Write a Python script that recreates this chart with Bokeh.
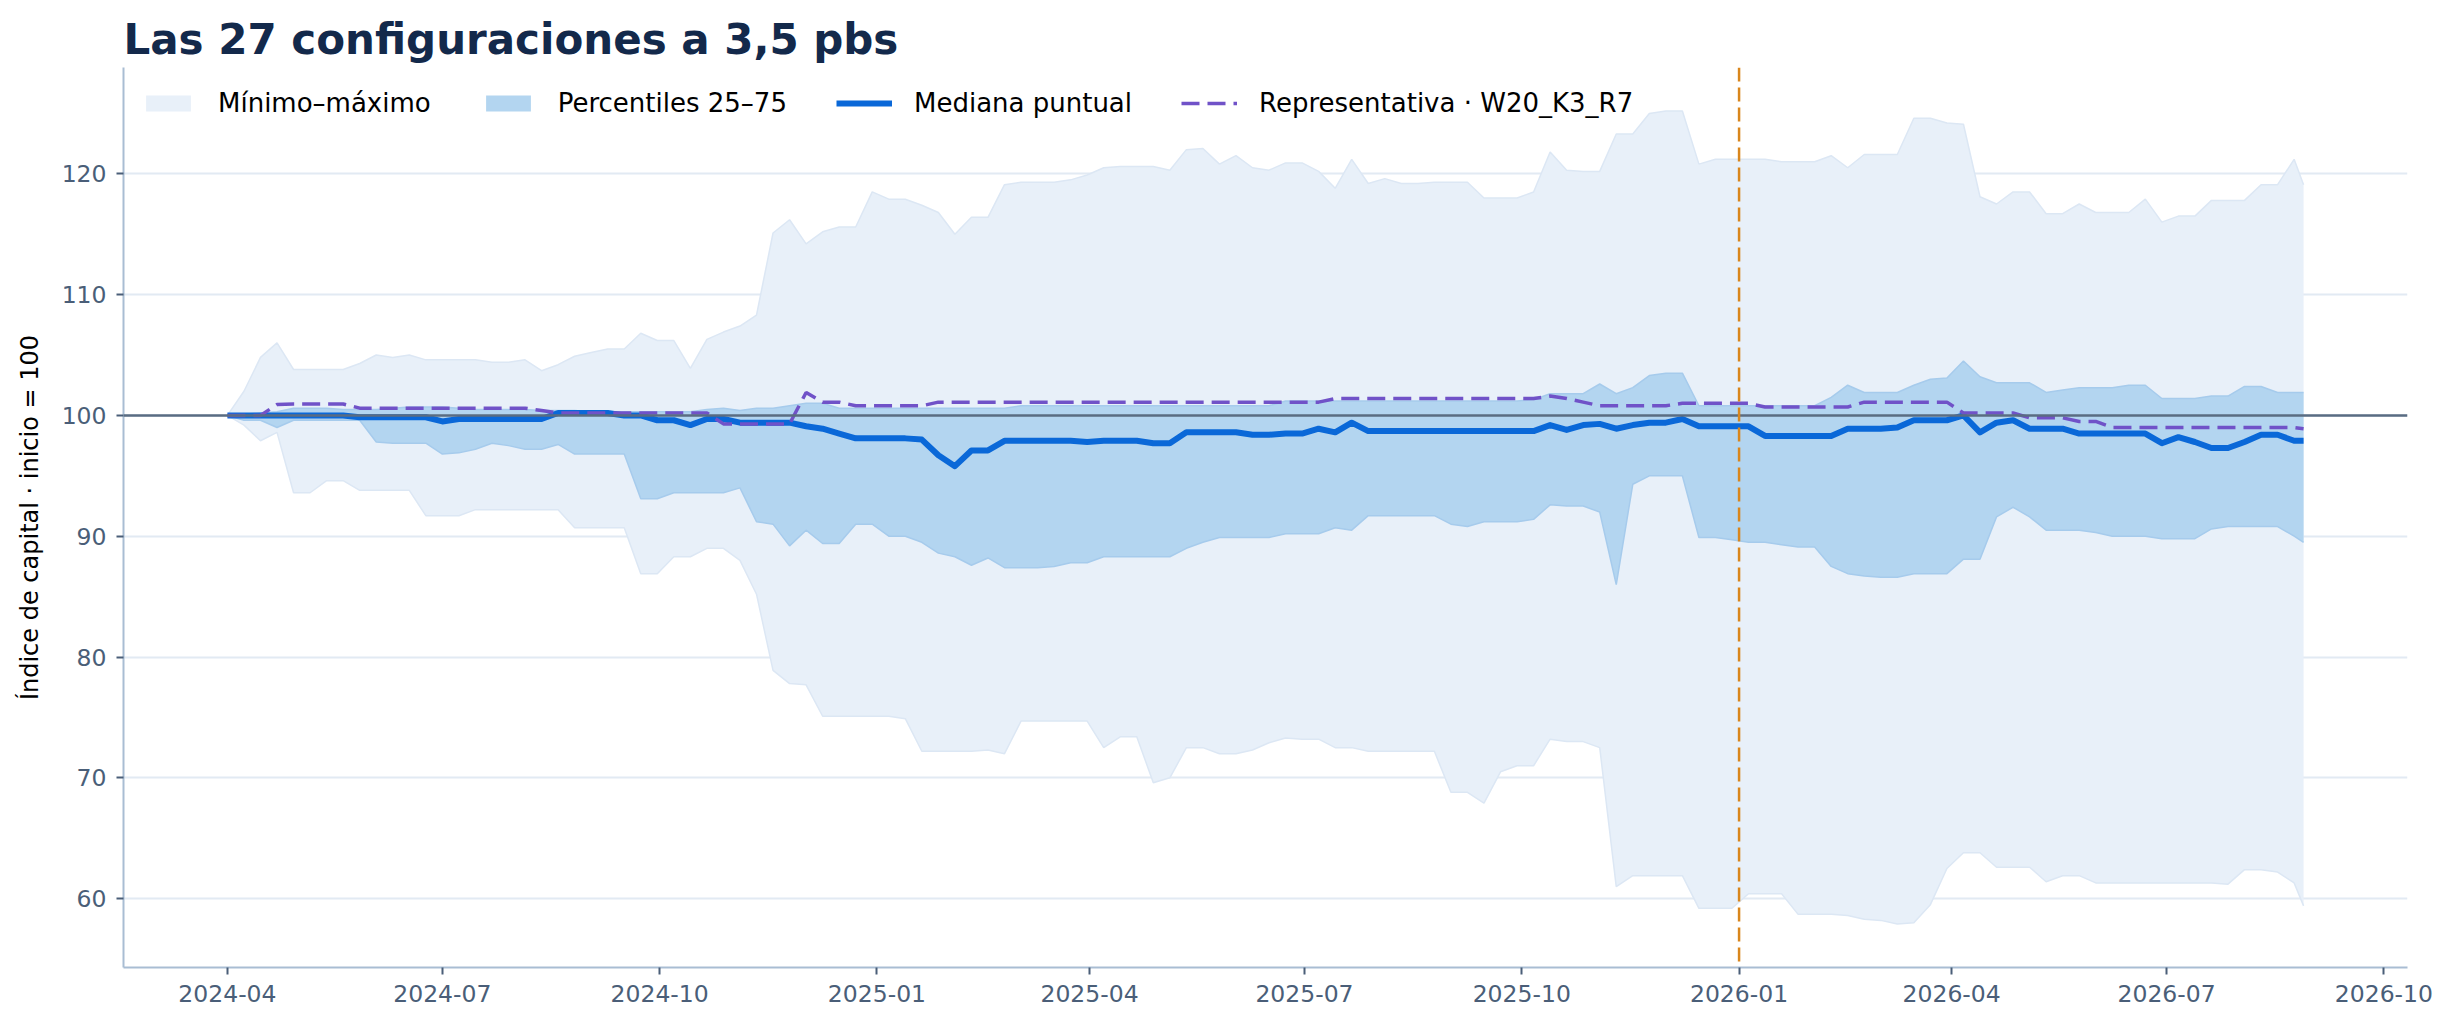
from datetime import timedelta
import pandas as pd
from bokeh.plotting import figure
from bokeh.models import (Range1d, FixedTicker, DatetimeTickFormatter, Span,
                          Legend, LegendItem, ColumnDataSource)
from bokeh.embed import file_html
from bokeh.resources import INLINE

# ---------------- data (weekly samples) ----------------
start_date = "2024-04-01"
end_date = "2026-08-28"
dates = list(pd.date_range(start_date, periods=126, freq="7D")) + [pd.Timestamp(end_date)]

max_vals = [
    100, 102, 104.8, 106, 103.8, 103.8, 103.8, 103.8, 104.3, 105,
    104.8, 105, 104.6, 104.6, 104.6, 104.6, 104.4, 104.4, 104.6, 103.7,
    104.2, 104.9, 105.2, 105.5, 105.5, 106.8, 106.2, 106.2, 103.9, 106.3,
    106.9, 107.4, 108.3, 115.1, 116.2, 114.2, 115.2, 115.6, 115.6, 118.5,
    117.9, 117.9, 117.4, 116.8, 115, 116.4, 116.4, 119.1, 119.3, 119.3,
    119.3, 119.5, 119.9, 120.5, 120.6, 120.6, 120.6, 120.3, 122, 122.1,
    120.8, 121.5, 120.5, 120.3, 120.9, 120.9, 120.2, 118.8, 121.2, 119.2,
    119.6, 119.2, 119.2, 119.3, 119.3, 119.3, 118, 118, 118, 118.5,
    121.8, 120.3, 120.2, 120.2, 123.3, 123.3, 125, 125.2, 125.2, 120.8,
    121.2, 121.2, 121.2, 121.2, 121, 121, 121, 121.5, 120.5, 121.6,
    121.6, 121.6, 124.6, 124.6, 124.2, 124.1, 118.1, 117.5, 118.5, 118.5,
    116.7, 116.7, 117.5, 116.8, 116.8, 116.8, 117.9, 116, 116.5, 116.5,
    117.8, 117.8, 117.8, 119.1, 119.1, 121.2,
    119.1,
]

min_vals = [
    100, 99.2, 97.9, 98.6, 93.6, 93.6, 94.6, 94.6, 93.8, 93.8,
    93.8, 93.8, 91.7, 91.7, 91.7, 92.2, 92.2, 92.2, 92.2, 92.2,
    92.2, 90.7, 90.7, 90.7, 90.7, 86.9, 86.9, 88.3, 88.3, 89,
    89, 88, 85.2, 78.9, 77.8, 77.7, 75.1, 75.1, 75.1, 75.1,
    75.1, 74.9, 72.2, 72.2, 72.2, 72.2, 72.3, 72, 74.7, 74.7,
    74.7, 74.7, 74.7, 72.5, 73.4, 73.4, 69.6, 70, 72.5, 72.5,
    72, 72, 72.3, 72.9, 73.3, 73.2, 73.2, 72.5, 72.5, 72.2,
    72.2, 72.2, 72.2, 72.2, 68.8, 68.8, 67.9, 70.5, 71, 71,
    73.2, 73, 73, 72.5, 61, 61.9, 61.9, 61.9, 61.9, 59.2,
    59.2, 59.2, 60.4, 60.4, 60.4, 58.7, 58.7, 58.7, 58.6, 58.3,
    58.2, 57.9, 58, 59.5, 62.5, 63.8, 63.8, 62.6, 62.6, 62.6,
    61.4, 61.9, 61.9, 61.3, 61.3, 61.3, 61.3, 61.3, 61.3, 61.3,
    61.3, 61.2, 62.4, 62.4, 62.2, 61.3,
    59.4,
]

p25_vals = [
    100, 99.6, 99.6, 99.0, 99.6, 99.6, 99.6, 99.6, 99.6, 97.8,
    97.7, 97.7, 97.7, 96.8, 96.9, 97.2, 97.7, 97.5, 97.2, 97.2,
    97.6, 96.8, 96.8, 96.8, 96.8, 93.1, 93.1, 93.6, 93.6, 93.6,
    93.6, 94, 91.2, 91, 89.2, 90.5, 89.4, 89.4, 91, 91,
    90, 90, 89.5, 88.6, 88.3, 87.6, 88.2, 87.4, 87.4, 87.4,
    87.5, 87.8, 87.8, 88.3, 88.3, 88.3, 88.3, 88.3, 89, 89.5,
    89.9, 89.9, 89.9, 89.9, 90.2, 90.2, 90.2, 90.7, 90.5, 91.7,
    91.7, 91.7, 91.7, 91.7, 91, 90.8, 91.2, 91.2, 91.2, 91.4,
    92.6, 92.5, 92.5, 92, 86, 94.3, 95, 95, 95, 89.9,
    89.9, 89.7, 89.5, 89.5, 89.3, 89.1, 89.1, 87.5, 86.9, 86.7,
    86.6, 86.6, 86.9, 86.9, 86.9, 88.1, 88.1, 91.6, 92.4, 91.6,
    90.5, 90.5, 90.5, 90.3, 90, 90, 90, 89.8, 89.8, 89.8,
    90.6, 90.8, 90.8, 90.8, 90.8, 90,
    89.5,
]

p75_vals = [
    100, 100.1, 100.2, 100.3, 100.6, 100.6, 100.6, 100.5, 100.5, 100.5,
    100.6, 100.7, 100.7, 100.7, 100.6, 100.5, 100.5, 100.5, 100.5, 100.4,
    100.4, 100.4, 100.3, 100.3, 100.3, 100.3, 100.3, 100.3, 100.3, 100.5,
    100.6, 100.4, 100.6, 100.6, 100.8, 101, 101, 100.6, 100.6, 100.6,
    100.6, 100.6, 100.6, 100.6, 100.6, 100.6, 100.6, 100.6, 100.8, 100.8,
    100.8, 100.8, 100.8, 100.8, 100.8, 100.8, 100.8, 100.8, 100.8, 100.8,
    100.8, 100.8, 100.8, 100.8, 101.2, 101.2, 101.2, 101.2, 101.2, 101.2,
    101.2, 101.2, 101.2, 101.2, 101.2, 101.2, 101.2, 101.2, 101.2, 101.3,
    101.8, 101.8, 101.8, 102.6, 101.8, 102.3, 103.3, 103.5, 103.5, 100.8,
    100.8, 100.8, 100.8, 100.8, 100.8, 100.8, 100.8, 101.5, 102.5, 101.9,
    101.9, 101.9, 102.5, 103, 103.1, 104.5, 103.2, 102.7, 102.7, 102.7,
    101.9, 102.1, 102.3, 102.3, 102.3, 102.5, 102.5, 101.4, 101.4, 101.4,
    101.6, 101.6, 102.4, 102.4, 101.9, 101.9,
    101.9,
]

median_vals = [
    100, 100, 100, 100, 100, 100, 100, 100, 99.85, 99.85,
    99.85, 99.85, 99.85, 99.5, 99.7, 99.7, 99.7, 99.7, 99.7, 99.7,
    100.2, 100.2, 100.2, 100.2, 100, 100, 99.6, 99.6, 99.2, 99.7,
    99.7, 99.4, 99.4, 99.4, 99.4, 99.1, 98.9, 98.5, 98.1, 98.1,
    98.1, 98.1, 98, 96.7, 95.8, 97.1, 97.1, 97.9, 97.9, 97.9,
    97.9, 97.9, 97.8, 97.9, 97.9, 97.9, 97.7, 97.7, 98.6, 98.6,
    98.6, 98.6, 98.4, 98.4, 98.5, 98.5, 98.9, 98.6, 99.4, 98.7,
    98.7, 98.7, 98.7, 98.7, 98.7, 98.7, 98.7, 98.7, 98.7, 98.7,
    99.2, 98.8, 99.2, 99.3, 98.9, 99.2, 99.4, 99.4, 99.7, 99.1,
    99.1, 99.1, 99.1, 98.3, 98.3, 98.3, 98.3, 98.3, 98.9, 98.9,
    98.9, 99.0, 99.6, 99.6, 99.6, 100, 98.6, 99.4, 99.6, 98.9,
    98.9, 98.9, 98.5, 98.5, 98.5, 98.5, 98.5, 97.7, 98.2, 97.8,
    97.3, 97.3, 97.8, 98.4, 98.4, 97.9,
    97.9,
]

rep_vals = [
    100, 100, 100, 100.9, 100.95, 100.95, 100.95, 100.95, 100.6, 100.6,
    100.6, 100.6, 100.6, 100.6, 100.6, 100.6, 100.6, 100.6, 100.6, 100.4,
    100.2, 100.2, 100.2, 100.2, 100.2, 100.2, 100.2, 100.2, 100.2, 100.2,
    99.3, 99.3, 99.3, 99.3, 99.3, 101.9, 101.1, 101.1, 100.8, 100.8,
    100.8, 100.8, 100.8, 101.1, 101.1, 101.1, 101.1, 101.1, 101.1, 101.1,
    101.1, 101.1, 101.1, 101.1, 101.1, 101.1, 101.1, 101.1, 101.1, 101.1,
    101.1, 101.1, 101.1, 101.1, 101.1, 101.1, 101.1, 101.4, 101.4, 101.4,
    101.4, 101.4, 101.4, 101.4, 101.4, 101.4, 101.4, 101.4, 101.4, 101.4,
    101.6, 101.4, 101.1, 100.8, 100.8, 100.8, 100.8, 100.8, 101, 101,
    101, 101, 101, 100.7, 100.7, 100.7, 100.7, 100.7, 100.7, 101.1,
    101.1, 101.1, 101.1, 101.1, 101.1, 100.2, 100.2, 100.2, 100.2, 99.8,
    99.8, 99.8, 99.5, 99.5, 99, 99, 99, 99, 99, 99,
    99, 99, 99, 99, 99, 99,
    98.9,
]

cutoff_date = "2026-01-01"
x_tick_dates = ["2024-04-01", "2024-07-01", "2024-10-01", "2025-01-01", "2025-04-01",
                "2025-07-01", "2025-10-01", "2026-01-01", "2026-04-01", "2026-07-01",
                "2026-10-01"]
y_ticks = [60, 70, 80, 90, 100, 110, 120]

title_text = "Las 27 configuraciones a 3,5 pbs"
y_label = "Índice de capital · inicio = 100"
legend_labels = ["Mínimo–máximo", "Percentiles 25–75", "Mediana puntual",
                 "Representativa · W20_K3_R7"]

# ---------------- figure ----------------
def ms(d):
    return pd.Timestamp(d).value / 1e6

src = ColumnDataSource(dict(date=dates, lo=min_vals, hi=max_vals, q1=p25_vals,
                            q3=p75_vals, med=median_vals, rep=rep_vals))

x_start = pd.Timestamp(start_date) - timedelta(days=44)
x_end = pd.Timestamp(end_date) + timedelta(days=44)

FONT = "DejaVu Sans"
p = figure(width=2438, height=1013, x_axis_type="datetime",
           output_backend="svg", toolbar_location=None,
           x_range=Range1d(x_start, x_end), y_range=Range1d(54.3, 128.8),
           min_border_left=123, min_border_right=31, min_border_top=67,
           min_border_bottom=46)

p.title.text = title_text
p.title.text_font = FONT
p.title.text_font_size = "42px"
p.title.text_font_style = "bold"
p.title.text_color = "#13294b"
p.title.align = "left"
p.title.standoff = 8

p.outline_line_color = None
p.background_fill_color = "white"
p.border_fill_color = "white"

# bands
r_mm = p.varea(x="date", y1="lo", y2="hi", source=src, fill_color="#e8f0f9")
p.line("date", "hi", source=src, line_color="#dce7f4", line_width=1.5)
p.line("date", "lo", source=src, line_color="#dce7f4", line_width=1.5)
r_iqr = p.varea(x="date", y1="q1", y2="q3", source=src, fill_color="#b3d5f0")
p.line("date", "q1", source=src, line_color="#a6cbec", line_width=1.5)
p.line("date", "q3", source=src, line_color="#a6cbec", line_width=1.5)

r_med = p.line("date", "med", source=src, line_color="#0a68d8", line_width=6,
               line_join="round")

hline = Span(location=100, dimension="width", line_color="#5a6c82", line_width=2.5)
p.add_layout(hline)

r_rep = p.line("date", "rep", source=src, line_color="#7052c8", line_width=3.5,
               line_dash="18 8")

vline = Span(location=ms(cutoff_date), dimension="height", line_color="#d9861c",
             line_width=2.5, line_dash="14 6")
p.add_layout(vline)

# axes
p.xaxis.ticker = FixedTicker(ticks=[ms(d) for d in x_tick_dates])
fmt = "%Y-%m"
p.xaxis.formatter = DatetimeTickFormatter(
    microseconds=fmt, milliseconds=fmt, seconds=fmt, minsec=fmt, minutes=fmt,
    hourmin=fmt, hours=fmt, days=fmt, months=fmt, years=fmt)
p.yaxis.ticker = FixedTicker(ticks=y_ticks)

for ax in (p.xaxis[0], p.yaxis[0]):
    ax.axis_line_color = "#a9bdd3"
    ax.axis_line_width = 2
    ax.major_tick_line_color = "#4a5e78"
    ax.major_tick_line_width = 2
    ax.major_tick_out = 7
    ax.major_tick_in = 0
    ax.minor_tick_line_color = None
    ax.major_label_text_font = FONT
    ax.major_label_text_font_size = "23.5px"
    ax.major_label_text_color = "#4a5e78"
    ax.major_label_standoff = 10

p.yaxis.axis_label = y_label
p.yaxis.axis_label_text_font = FONT
p.yaxis.axis_label_text_font_size = "24px"
p.yaxis.axis_label_text_font_style = "normal"
p.yaxis.axis_label_text_color = "black"
p.yaxis.axis_label_standoff = 15

p.xgrid.visible = False
p.ygrid.grid_line_color = "#e2eaf3"
p.ygrid.grid_line_width = 2

legend = Legend(items=[
    LegendItem(label=legend_labels[0], renderers=[r_mm]),
    LegendItem(label=legend_labels[1], renderers=[r_iqr]),
    LegendItem(label=legend_labels[2], renderers=[r_med]),
    LegendItem(label=legend_labels[3], renderers=[r_rep]),
], orientation="horizontal", location="top_left")
legend.label_text_font = FONT
legend.label_text_font_size = "26px"
legend.label_text_color = "black"
legend.glyph_width = 56
legend.glyph_height = 20
legend.label_height = 37
legend.label_standoff = 22
legend.spacing = 49
legend.padding = 10
legend.margin = 7
legend.background_fill_alpha = 0
legend.border_line_alpha = 0
p.add_layout(legend)

open("out.html", "w").write(file_html(p, INLINE))
